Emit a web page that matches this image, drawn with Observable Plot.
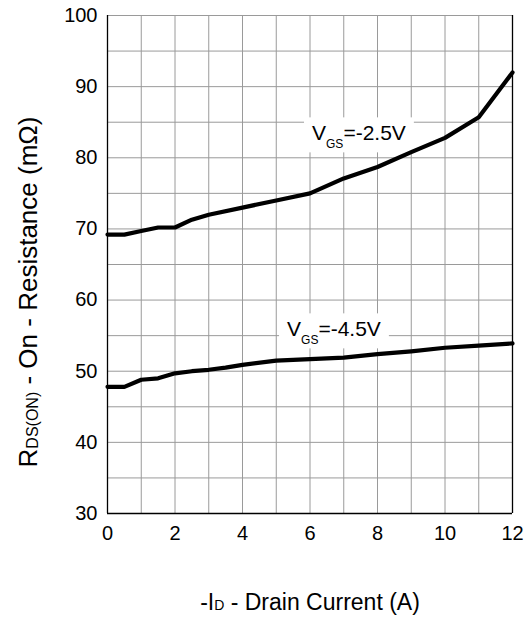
<!DOCTYPE html>
<html><head><meta charset="utf-8">
<script src="https://cdn.jsdelivr.net/npm/d3@7"></script>
<script src="https://cdn.jsdelivr.net/npm/@observablehq/plot@0.6"></script>
<style>
body{margin:0;background:#fff}
svg{font-family:"Liberation Sans",Arial,sans-serif}
</style>
</head><body><div id="chart"></div>
<script>
// -ID drain current (A) and RDS(ON) (mΩ) for each gate voltage
const current25 = [0, 0.5, 1, 1.5, 2, 2.5, 3, 4, 5, 6, 7, 8, 9, 10, 11, 12];
const rds25     = [69.2, 69.2, 69.7, 70.2, 70.2, 71.3, 72.0, 73.0, 74.0, 75.0, 77.1, 78.7, 80.8, 82.8, 85.7, 92.0];
const current45 = [0, 0.5, 1, 1.5, 2, 2.5, 3, 3.5, 4, 5, 6, 7, 8, 9, 10, 11, 12];
const rds45     = [47.8, 47.8, 48.8, 49.0, 49.7, 50.0, 50.2, 50.5, 50.9, 51.5, 51.7, 51.9, 52.4, 52.8, 53.3, 53.6, 53.9];
const seriesNames = ["-2.5V", "-4.5V"];
const xTicks = [0, 2, 4, 6, 8, 10, 12];
const yTicks = [30, 40, 50, 60, 70, 80, 90, 100];
const xGridValues = [1, 2, 3, 4, 5, 6, 7, 8, 9, 10, 11];
const yGridValues = [35, 40, 45, 50, 55, 60, 65, 70, 75, 80, 85, 90, 95, 100];
// label anchor positions (data units)
const labelX = [6.06, 5.32];
const labelY = [82.45, 54.9];

const d25 = current25.map((c, i) => ({x: c, y: rds25[i]}));
const d45 = current45.map((c, i) => ({x: c, y: rds45[i]}));
const labels = seriesNames.map((s, i) => ({s, x: labelX[i], y: labelY[i]}));

const chart = Plot.plot({
  width: 531, height: 620,
  marginLeft: 107, marginRight: 19, marginTop: 15, marginBottom: 107,
  style: {fontFamily: "'Liberation Sans', Arial, sans-serif", fontSize: "20px", color: "#000", background: "#fff", overflow: "visible"},
  x: {domain: [0, 12], ticks: xTicks, tickSize: 0, tickPadding: 12, label: null},
  y: {domain: [30, 100], ticks: yTicks, tickSize: 0, tickPadding: 10, label: null},
  marks: [
    Plot.gridX(xGridValues, {stroke: "#9a9a9a", strokeOpacity: 1, strokeWidth: 1}),
    Plot.gridY(yGridValues, {stroke: "#9a9a9a", strokeOpacity: 1, strokeWidth: 1}),
    Plot.text(labels, {x: "x", y: "y", text: "s", textAnchor: "start", lineAnchor: "bottom", fontSize: 21, fill: "#000"}),
    Plot.ruleX([0, 12], {stroke: "#000", strokeWidth: 1.3}),
    Plot.ruleY([30], {stroke: "#000", strokeWidth: 1.3}),
    Plot.line(d25, {x: "x", y: "y", stroke: "#000", strokeWidth: 4.2}),
    Plot.line(d45, {x: "x", y: "y", stroke: "#000", strokeWidth: 4.2})
  ]
});
document.getElementById("chart").appendChild(chart);

const svg = d3.select(chart);
// rich text for curve labels: V_GS=...
svg.selectAll("text").filter(function() { return seriesNames.includes(this.textContent); }).each(function() {
  const t = d3.select(this);
  const s = this.textContent;
  t.text(null);
  t.append("tspan").text("V");
  t.append("tspan").attr("font-size", 12).attr("dy", 8).text("GS");
  t.append("tspan").attr("dy", -8).text("=" + s);
  const bb = this.getBBox();
  const tr = this.getAttribute("transform");
  const r = d3.select(this.parentNode).insert("rect", () => this)
    .attr("x", bb.x - 8).attr("y", bb.y - 4)
    .attr("width", bb.width + 16).attr("height", bb.height + 5)
    .attr("fill", "#fff");
  if (tr) r.attr("transform", tr);
});

// axis titles
const xl = svg.append("text").attr("x", 310).attr("y", 610).attr("text-anchor", "middle")
  .attr("font-size", 23).attr("fill", "#000");
xl.append("tspan").text("-I");
xl.append("tspan").attr("font-size", 14).text("D");
xl.append("tspan").text(" - Drain Current (A)");

const yl = svg.append("text").attr("transform", "translate(37,292) rotate(-90)").attr("text-anchor", "middle")
  .attr("font-size", 26).attr("fill", "#000");
yl.append("tspan").text("R");
yl.append("tspan").attr("font-size", 16).attr("dy", 1).text("DS(ON)");
yl.append("tspan").attr("dy", -1).text(" - On - Resistance (mΩ)");
</script>
</body></html>
